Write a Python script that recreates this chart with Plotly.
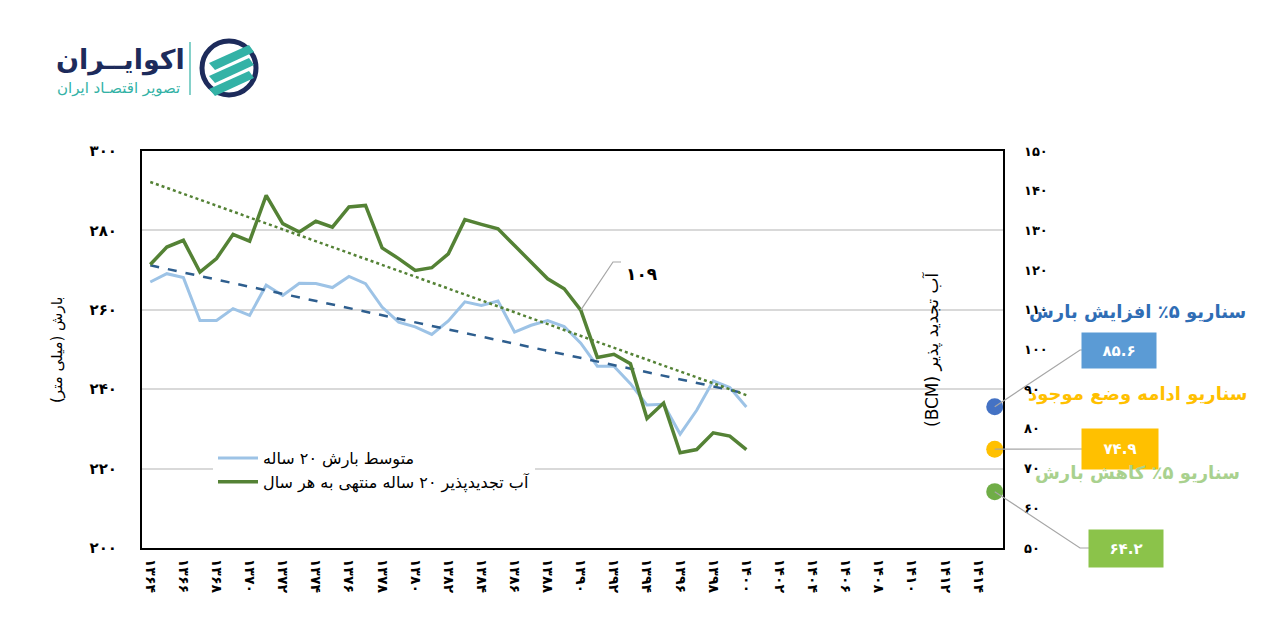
import plotly.graph_objects as go

# ---------------- data ----------------
years = list(range(1364, 1401))
precip_avg = [267.0, 269.1, 268.1, 257.3, 257.3, 260.3, 258.6, 266.2, 263.6, 266.7,
              266.6, 265.6, 268.4, 266.6, 260.7, 256.9, 255.7, 253.8, 257.2, 262.0,
              261.1, 262.2, 254.4, 256.1, 257.3, 255.8, 251.6, 245.8, 245.8, 241.4,
              236.0, 236.2, 228.7, 234.7, 242.1, 240.4, 235.5]
renewable = [121.4, 125.8, 127.5, 119.5, 122.9, 129.0, 127.3, 138.8, 131.7, 129.6,
             132.3, 130.8, 135.9, 136.3, 125.6, 122.9, 119.9, 120.6, 124.1, 132.7,
             131.5, 130.4, 126.2, 122.0, 117.8, 115.3, 109.9, 98.0, 98.8, 96.4,
             82.6, 86.5, 74.0, 74.8, 79.0, 78.2, 74.8]
trend_years = [1364, 1400]
precip_trend = [271.2, 238.9]
renew_trend = [142.2, 88.5]

scen_year = 1415
scen_values = [85.6, 74.9, 64.2]
scen_names = ["سناریو ۵٪ افزایش بارش", "سناریو ادامه وضع موجود", "سناریو ۵٪ کاهش بارش"]
scen_dot_colors = ["#4472C4", "#FFC000", "#70AD47"]
scen_box_colors = ["#5B9BD5", "#FFC000", "#8BC34A"]
scen_text_colors = ["#2F6DB5", "#FFC000", "#A9D18E"]

callout_year = 1390
callout_value = 109

x_ticks = list(range(1364, 1415, 2))
left_ticks = list(range(200, 301, 20))
right_ticks = list(range(50, 151, 10))

name_precip = "متوسط بارش ۲۰ ساله"
name_renew = "آب تجدیدپذیر ۲۰ ساله منتهی به هر سال"
left_title = "بارش (میلی متر)"
right_title = "آب تجدید پذیر (BCM)"

FA = str.maketrans("0123456789", "۰۱۲۳۴۵۶۷۸۹")
def fa(v):
    return str(v).translate(FA)

def rtl(s):
    return "\u202b" + s + "\u202c"

FONT = "DejaVu Sans"
W, H = 1280, 632
L, R, T, B = 142, 1003, 151, 548
XR = [1363.5, 1415.5]
Y2R = [50, 150]

def px2x(px):
    return (px - L) / (R - L)

def px2y(py):
    return (B - py) / (B - T)

def yr2x(yr):
    return (yr - XR[0]) / (XR[1] - XR[0])

def v2y(v):
    return (v - Y2R[0]) / (Y2R[1] - Y2R[0])

fig = go.Figure()

fig.add_trace(go.Scatter(x=years, y=precip_avg, mode="lines", name=rtl(name_precip),
                         line=dict(color="#9DC3E6", width=3), yaxis="y"))
fig.add_trace(go.Scatter(x=years, y=renewable, mode="lines", name=rtl(name_renew),
                         line=dict(color="#548235", width=3.5), yaxis="y2"))
fig.add_trace(go.Scatter(x=trend_years, y=precip_trend, mode="lines", showlegend=False,
                         line=dict(color="#2E5E8E", width=2.5, dash="dash"), yaxis="y"))
fig.add_trace(go.Scatter(x=trend_years, y=renew_trend, mode="lines", showlegend=False,
                         line=dict(color="#548235", width=2.5, dash="dot"), yaxis="y2"))
fig.add_trace(go.Scatter(x=[scen_year] * len(scen_values), y=scen_values, mode="markers",
                         showlegend=False, marker=dict(size=17, color=scen_dot_colors),
                         yaxis="y2", cliponaxis=False))

shapes = []
annotations = []

# callout 109
cx, cy = yr2x(callout_year), v2y(renewable[years.index(callout_year)])
shapes.append(dict(type="path", xref="paper", yref="paper",
                   path=f"M {cx},{cy} L {px2x(613)},{px2y(262)} L {px2x(621)},{px2y(262)}",
                   line=dict(color="#A6A6A6", width=1.2)))
annotations.append(dict(x=px2x(624), y=px2y(262), xref="paper", yref="paper",
                        text=fa(callout_value), showarrow=False, xanchor="left",
                        font=dict(family=FONT, size=17, color="black", weight="bold")))

# scenario boxes, connectors, texts
box_cx = [1119, 1120, 1126]
box_cy = [350, 449, 548]
box_w = [72, 74, 72]
box_h = [33, 38, 35]
elbow_x = [1080, 1083, 1080]
text_cy = [312, 394, 473]
dx = yr2x(scen_year)
for i, v in enumerate(scen_values):
    dy = v2y(v)
    left_edge = box_cx[i] - box_w[i] / 2
    shapes.append(dict(type="path", xref="paper", yref="paper",
                       path=f"M {dx},{dy} L {px2x(elbow_x[i])},{px2y(box_cy[i])} L {px2x(left_edge)},{px2y(box_cy[i])}",
                       line=dict(color="#A6A6A6", width=1.2)))
    annotations.append(dict(x=px2x(box_cx[i]), y=px2y(box_cy[i]), xref="paper", yref="paper",
                            text=fa(v), showarrow=False, bgcolor=scen_box_colors[i],
                            width=box_w[i], height=box_h[i], xanchor="center", yanchor="middle",
                            font=dict(family=FONT, size=15, color="white", weight="bold")))
    annotations.append(dict(x=px2x(1137), y=px2y(text_cy[i]), xref="paper", yref="paper",
                            text=rtl(scen_names[i]), showarrow=False, xanchor="center", yanchor="middle",
                            font=dict(family=FONT, size=18, color=scen_text_colors[i], weight="bold")))

# axis titles
annotations.append(dict(x=px2x(46), y=px2y(350), xref="paper", yref="paper", text=rtl(left_title),
                        showarrow=False, textangle=-90,
                        font=dict(family=FONT, size=15, color="black")))
annotations.append(dict(x=px2x(945), y=px2y(350), xref="paper", yref="paper", text=rtl(right_title),
                        showarrow=False, textangle=-90,
                        font=dict(family=FONT, size=17, color="black")))

# logo
annotations.append(dict(x=px2x(120), y=px2y(60), xref="paper", yref="paper", text="اکوایــران",
                        showarrow=False, xanchor="center", yanchor="middle",
                        font=dict(family=FONT, size=27, color="#1D2B5B", weight="bold")))
annotations.append(dict(x=px2x(118), y=px2y(88), xref="paper", yref="paper", text="تصویر اقتصـاد ایران",
                        showarrow=False, xanchor="center", yanchor="middle",
                        font=dict(family=FONT, size=15, color="#33B2A6")))
shapes.append(dict(type="line", xref="paper", yref="paper", x0=px2x(190), x1=px2x(190),
                   y0=px2y(42), y1=px2y(95), line=dict(color="#33B2A6", width=1.2)))
shapes.append(dict(type="circle", xref="paper", yref="paper", x0=px2x(202), x1=px2x(256),
                   y0=px2y(41), y1=px2y(95), line=dict(color="#1D2B5B", width=5)))
for k in range(3):
    y_off = k * 13
    shapes.append(dict(type="path", xref="paper", yref="paper",
                       path=(f"M {px2x(209)},{px2y(63 + y_off)} L {px2x(249)},{px2y(45 + y_off)} "
                             f"L {px2x(254)},{px2y(52 + y_off)} L {px2x(215)},{px2y(70 + y_off)} Z"),
                       fillcolor="#33B2A6", line=dict(width=0)))

fig.update_layout(
    width=W, height=H,
    margin=dict(l=L, r=W - R, t=T, b=H - B),
    paper_bgcolor="white", plot_bgcolor="white",
    font=dict(family=FONT, color="black"),
    xaxis=dict(range=XR, tickmode="array", tickvals=x_ticks, ticktext=[fa(t) for t in x_ticks],
               tickangle=90, showgrid=False, zeroline=False, showline=True, mirror=True,
               linecolor="black", linewidth=2, ticks="", ticklabelstandoff=6,
               tickfont=dict(family=FONT, size=14, color="black", weight="bold")),
    yaxis=dict(range=[200, 300], tickmode="array", tickvals=left_ticks,
               ticktext=[fa(t) for t in left_ticks], showgrid=True, gridcolor="#D9D9D9",
               gridwidth=1.5, zeroline=False, showline=True, mirror=True, linecolor="black",
               linewidth=2, ticks="", ticklabelstandoff=20,
               tickfont=dict(family=FONT, size=15, color="black", weight="bold")),
    yaxis2=dict(range=Y2R, overlaying="y", side="right", tickmode="array", tickvals=right_ticks,
                ticktext=[fa(t) for t in right_ticks], showgrid=False, zeroline=False,
                ticks="", ticklabelstandoff=20,
                tickfont=dict(family=FONT, size=13, color="black", weight="bold")),
    legend=dict(x=px2x(213), y=px2y(441), xanchor="left", yanchor="top",
                bgcolor="white", font=dict(family=FONT, size=16, color="black"),
                tracegroupgap=2, itemwidth=40),
    shapes=shapes,
    annotations=annotations,
    showlegend=True,
)

fig.write_html("out.html", config={"displayModeBar": False},
               post_script="document.body.style.margin='0';")
